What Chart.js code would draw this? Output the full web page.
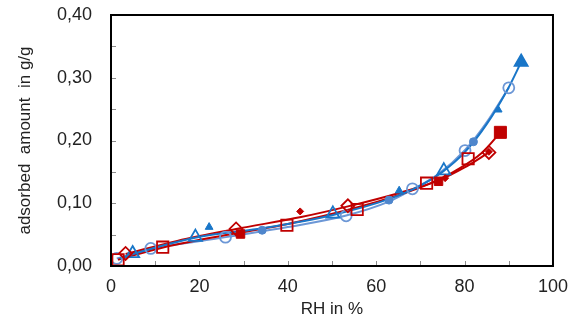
<!DOCTYPE html>
<html>
<head>
<meta charset="utf-8">
<script src="https://cdn.jsdelivr.net/npm/chart.js@4"></script>
<style>
  html, body { margin: 0; padding: 0; background: #fff; }
  #wrap { width: 578px; height: 326px; }
</style>
</head>
<body>
<div id="wrap"><canvas id="ctx1"></canvas></div>
<script>
// measured points (RH in %, adsorbed amount in g/g)
const redOpenSqX = [1.6, 11.7, 39.8, 55.7, 71.4, 80.8];
const redOpenSqY = [0.010, 0.030, 0.065, 0.090, 0.132, 0.171];
const redFullSqX = [29.3, 74.1, 88.1];
const redFullSqY = [0.051, 0.135, 0.213];
const redOpenDiaX = [3.3, 28.3, 53.6, 85.5];
const redOpenDiaY = [0.020, 0.059, 0.096, 0.181];
const redFullDiaX = [42.8, 75.6, 85.5];
const redFullDiaY = [0.087, 0.140, 0.182];
const blueOpenTriX = [4.9, 19.1, 50.2, 75.3, 92.8];
const blueOpenTriY = [0.020, 0.046, 0.083, 0.152, 0.325];
const blueFullTriX = [22.2, 65.2, 87.6, 92.8];
const blueFullTriY = [0.062, 0.120, 0.249, 0.325];
const lbOpenCircX = [1.3, 9.0, 25.9, 53.2, 68.2, 80.1, 90.0];
const lbOpenCircY = [0.012, 0.028, 0.046, 0.080, 0.123, 0.184, 0.284];
const blueFullCircX = [34.2, 62.9, 82.0];
const blueFullCircY = [0.057, 0.105, 0.198];

// fitted curves
const redFit1X = [1.6, 12, 29, 40, 55, 65, 72, 78, 84, 88.1];
const redFit1Y = [0.010, 0.030, 0.053, 0.067, 0.092, 0.113, 0.131, 0.152, 0.181, 0.213];
const redFit2X = [3.3, 15, 28.3, 43, 53.6, 65, 74, 80, 85.5];
const redFit2Y = [0.019, 0.040, 0.059, 0.078, 0.095, 0.116, 0.136, 0.157, 0.181];
const blueFitX = [2, 5, 19, 35, 50, 63, 70, 75, 80, 85, 90, 92.8];
const blueFitY = [0.012, 0.019, 0.045, 0.061, 0.081, 0.107, 0.128, 0.150, 0.181, 0.226, 0.285, 0.325];
const lbFitX = [1.3, 9, 26, 40, 53, 63, 68, 74, 80, 85, 90];
const lbFitY = [0.012, 0.027, 0.046, 0.062, 0.080, 0.103, 0.121, 0.146, 0.184, 0.229, 0.284];

const yTicks = [0, 0.1, 0.2, 0.3, 0.4];
const xTicks = [0, 20, 40, 60, 80, 100];

const RED = '#C00000';
const BLUE = '#1976C8';
const LBLUE = '#6C97D6';

const pts = (xs, ys) => xs.map((x, i) => ({ x, y: ys[i] }));

const fit = (xs, ys, color, order) => ({
    data: pts(xs, ys),
    showLine: true,
    borderColor: color,
    borderWidth: 2,
    pointRadius: 0,
    cubicInterpolationMode: 'monotone',
    order
});

const marks = (xs, ys, style, color, radius, filled) => ({
    data: pts(xs, ys),
    showLine: false,
    pointStyle: style,
    pointRadius: radius,
    pointBorderColor: color,
    pointBackgroundColor: filled ? color : 'rgba(255,255,255,0)',
    pointBorderWidth: filled ? 1 : 1.8,
    order: 1
});

// inward tick marks and closed frame
const frame = {
    id: 'frame',
    afterDraw(chart) {
        const { ctx, chartArea: a, scales } = chart;
        ctx.save();
        ctx.strokeStyle = '#8c8c8c';
        ctx.lineWidth = 1;
        scales.y.ticks.forEach(t => {
            const y = Math.round(scales.y.getPixelForValue(t.value)) + 0.5;
            ctx.beginPath();
            ctx.moveTo(a.left, y);
            ctx.lineTo(a.left + 5, y);
            ctx.stroke();
        });
        scales.x.ticks.forEach(t => {
            const x = Math.round(scales.x.getPixelForValue(t.value)) + 0.5;
            ctx.beginPath();
            ctx.moveTo(x, a.bottom);
            ctx.lineTo(x, a.bottom - 5);
            ctx.stroke();
        });
        ctx.strokeStyle = '#000';
        ctx.lineWidth = 2;
        ctx.strokeRect(a.left, a.top, a.right - a.left, a.bottom - a.top);
        ctx.restore();
    }
};

new Chart(document.getElementById('ctx1'), {
    type: 'scatter',
    data: {
        datasets: [
            fit(redFit1X, redFit1Y, RED, 3),
            fit(redFit2X, redFit2Y, RED, 3),
            fit(lbFitX, lbFitY, LBLUE, 3),
            fit(blueFitX, blueFitY, BLUE, 2),
            marks(redOpenSqX, redOpenSqY, 'rect', RED, 8, false),
            marks(redFullSqX, redFullSqY, 'rect', RED, [6, 6, 8.5], true),
            marks(redOpenDiaX, redOpenDiaY, 'rectRot', RED, 6.5, false),
            marks(redFullDiaX, redFullDiaY, 'rectRot', RED, 3.5, true),
            marks(blueOpenTriX, blueOpenTriY, 'triangle', BLUE, 7.5, false),
            marks(blueFullTriX, blueFullTriY, 'triangle', BLUE, [4.5, 4.5, 4.5, 7], true),
            marks(lbOpenCircX, lbOpenCircY, 'circle', LBLUE, 5.5, false),
            marks(blueFullCircX, blueFullCircY, 'circle', '#4F86CC', 4, true)
        ]
    },
    options: {
        responsive: true,
        maintainAspectRatio: false,
        animation: false,
        layout: { padding: { top: 0, right: 21, left: 0, bottom: 0 } },
        plugins: { legend: { display: false }, tooltip: { enabled: false } },
        scales: {
            x: {
                type: 'linear',
                min: 0,
                max: 100,
                afterFit: s => { s.height = 60; },
                afterBuildTicks: s => { s.ticks = [0, 10, 20, 30, 40, 50, 60, 70, 80, 90, 100].map(v => ({ value: v })); },
                grid: { display: false, drawTicks: false },
                border: { display: false },
                ticks: {
                    padding: 10,
                    color: '#222',
                    font: { family: 'Liberation Sans, Arial, sans-serif', size: 18 },
                    maxRotation: 0,
                    autoSkip: false,
                    callback: v => xTicks.includes(v) ? String(v) : ''
                },
                title: {
                    display: true,
                    text: 'RH in %',
                    color: '#222',
                    font: { family: 'Liberation Sans, Arial, sans-serif', size: 17 },
                    padding: { top: 0, bottom: 6 }
                }
            },
            y: {
                type: 'linear',
                min: 0,
                max: 0.4,
                afterFit: s => { s.width = 111; s.paddingTop = 15; s.paddingBottom = 0; },
                afterBuildTicks: s => { s.ticks = [0, 0.05, 0.1, 0.15, 0.2, 0.25, 0.3, 0.35, 0.4].map(v => ({ value: v })); },
                grid: { display: false, drawTicks: false },
                border: { display: false },
                ticks: {
                    padding: 19,
                    color: '#222',
                    font: { family: 'Liberation Sans, Arial, sans-serif', size: 18 },
                    autoSkip: false,
                    callback: v => yTicks.some(t => Math.abs(t - v) < 1e-6) ? v.toFixed(2).replace('.', ',') : ''
                },
                title: {
                    display: true,
                    text: 'adsorbed  amount  in g/g',
                    color: '#222',
                    font: { family: 'Liberation Sans, Arial, sans-serif', size: 17 },
                    padding: { top: 15, bottom: 0 }
                }
            }
        }
    },
    plugins: [frame]
});
</script>
</body>
</html>
